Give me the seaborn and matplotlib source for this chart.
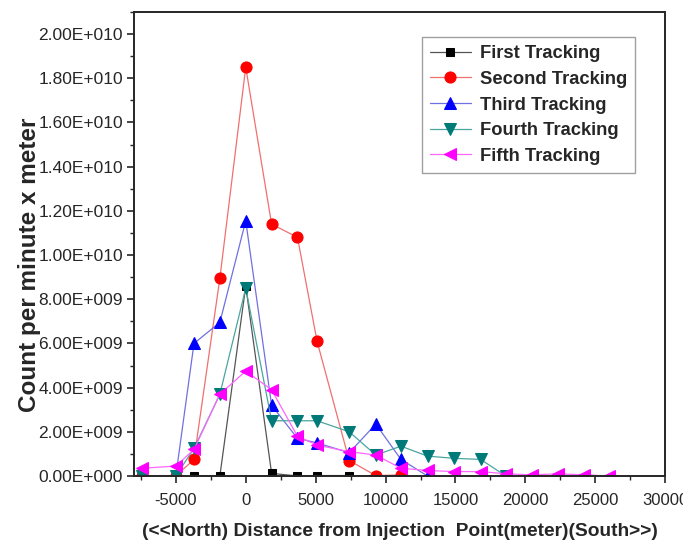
import numpy as np
import pandas as pd
import matplotlib
matplotlib.use("Agg")
import matplotlib.pyplot as plt
import seaborn as sns
from matplotlib.ticker import MultipleLocator, FuncFormatter

sns.set_style("ticks")
plt.rcParams["font.family"] = ["Liberation Sans", "DejaVu Sans"]
plt.rcParams["axes.unicode_minus"] = False

# distances (m) and counts per tracking
x_first = [-3700, -1850, 0, 1850, 3700, 5100, 7400, 9300]
y_first = [0.02e9, 0.0, 8.6e9, 0.12e9, 0.0, 0.02e9, 0.02e9, 0.0]

x_second = [-7400, -5000, -3700, -1850, 0, 1850, 3700, 5100, 7400, 9300, 11100]
y_second = [0.0, 0.0, 0.75e9, 8.95e9, 1.85e10, 1.14e10, 1.08e10, 6.1e9, 0.7e9, 0.02e9, 0.05e9]

x_third = [-7400, -5000, -3700, -1850, 0, 1850, 3700, 5100, 7400, 9300, 11100, 13000]
y_third = [0.0, 0.0, 6.0e9, 6.95e9, 1.155e10, 3.2e9, 1.7e9, 1.5e9, 1.05e9, 2.35e9, 0.75e9, 0.0]

x_fourth = [-7400, -5000, -3700, -1850, 0, 1850, 3700, 5100, 7400, 9300, 11100, 13000,
            14900, 16800, 18600]
y_fourth = [0.0, 0.0, 1.25e9, 3.7e9, 8.5e9, 2.5e9, 2.5e9, 2.5e9, 2.0e9, 0.95e9, 1.35e9,
            0.9e9, 0.8e9, 0.75e9, 0.0]

x_fifth = [-7400, -5000, -3700, -1850, 0, 1850, 3700, 5100, 7400, 9300, 11100, 13000,
           14900, 16800, 18600, 20500, 22300, 24200, 26000]
y_fifth = [0.35e9, 0.45e9, 1.2e9, 3.7e9, 4.75e9, 3.9e9, 1.8e9, 1.4e9, 1.1e9, 0.95e9, 0.35e9,
           0.25e9, 0.2e9, 0.2e9, 0.1e9, 0.05e9, 0.1e9, 0.05e9, 0.0]

names = ["First Tracking", "Second Tracking", "Third Tracking", "Fourth Tracking", "Fifth Tracking"]
xs = [x_first, x_second, x_third, x_fourth, x_fifth]
ys = [y_first, y_second, y_third, y_fourth, y_fifth]
markers = ["s", "o", "^", "v", "<"]
mcolors = ["black", "red", "blue", "#007a78", "magenta"]
lcolors = ["#555555", "#f07070", "#7070e0", "#4aa5a0", "#ff66ff"]
msizes = [6, 8, 9, 9, 9]

fig, ax = plt.subplots(figsize=(6.83, 5.44), dpi=100)
for name, x, y, m, mc, lc, ms in zip(names, xs, ys, markers, mcolors, lcolors, msizes):
    sns.lineplot(x=x, y=y, ax=ax, color=lc, lw=0.9, marker=m, markersize=ms,
                 markerfacecolor=mc, markeredgecolor=mc, label=name, sort=False)

ax.set_xlim(-8000, 30000)
ax.set_ylim(0, 2.1e10)
ax.xaxis.set_major_locator(MultipleLocator(5000))
ax.xaxis.set_minor_locator(MultipleLocator(2500))
ax.yaxis.set_major_locator(MultipleLocator(2e9))
ax.yaxis.set_minor_locator(MultipleLocator(1e9))


def sci(v, pos):
    if v == 0:
        return "0.00E+000"
    e = int(np.floor(np.log10(abs(v))))
    return f"{v / 10**e:.2f}E+{e:03d}"


ax.yaxis.set_major_formatter(FuncFormatter(sci))
ax.tick_params(which="major", length=5, width=1.2, direction="out")
ax.tick_params(which="minor", length=3, width=1.0, direction="out")
ax.tick_params(axis="y", labelsize=12.5, pad=3)
ax.tick_params(axis="x", labelsize=12, pad=7)
for s in ax.spines.values():
    s.set_linewidth(1.4)
    s.set_visible(True)

ax.set_xlabel("(<<North) Distance from Injection  Point(meter)(South>>)",
              fontsize=13.8, fontweight="bold", labelpad=11)
ax.set_ylabel("Count per minute x meter", fontsize=17.5, fontweight="bold")
ax.yaxis.set_label_coords(-0.175, 0.455)

leg = ax.legend(loc="upper right", bbox_to_anchor=(0.9435, 0.946), borderaxespad=0,
                frameon=True, fancybox=False, edgecolor="#888888",
                prop={"weight": "bold", "size": 13.2},
                handlelength=2.2, borderpad=0.45, labelspacing=0.47, handletextpad=0.5)
leg.get_frame().set_linewidth(1.0)

fig.subplots_adjust(left=0.196, right=0.974, top=0.978, bottom=0.125)
fig.savefig("out.png", dpi=100)
